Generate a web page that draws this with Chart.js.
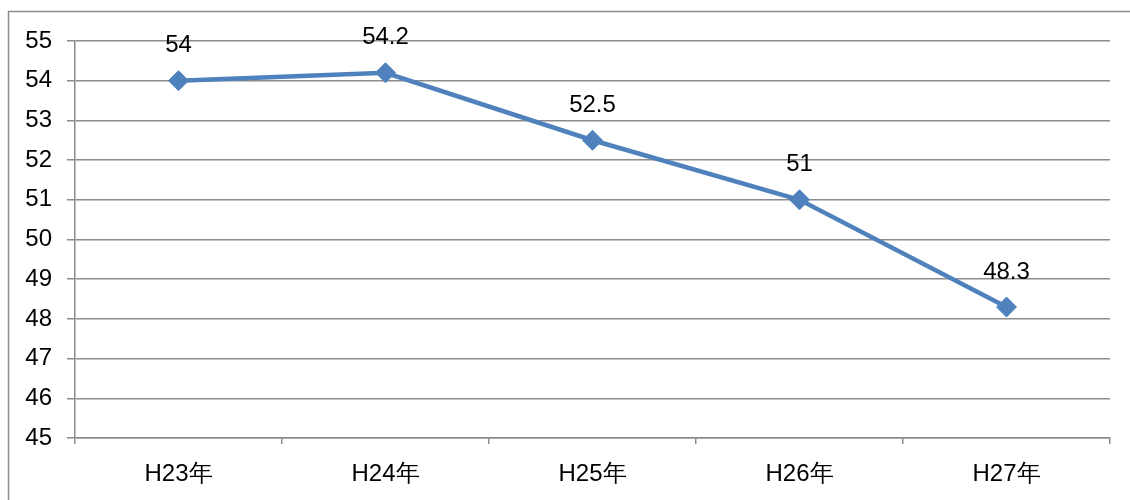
<!DOCTYPE html>
<html>
<head>
<meta charset="utf-8">
<script src="https://cdn.jsdelivr.net/npm/chart.js@4"></script>
<style>
  html, body { margin: 0; padding: 0; background: #fff; }
  #wrap { width: 1130px; height: 500px; position: relative; }
</style>
</head>
<body>
<div id="wrap"><canvas id="lineChart" width="1130" height="500"></canvas></div>
<script>
const years = ["H23年", "H24年", "H25年", "H26年", "H27年"];
const values = [54, 54.2, 52.5, 51, 48.3];
const yMin = 45;
const yMax = 55;
const fontFamily = "'Liberation Sans', Arial, sans-serif";

// frame + value labels
const extras = {
    id: "extras",
    beforeDraw(chart) {
        const c = chart.ctx;
        c.save();
        c.strokeStyle = "#8c8c8c";
        c.lineWidth = 1.5;
        c.strokeRect(8.5, 11.5, 1200, 600);
        c.restore();
    },
    afterDatasetsDraw(chart) {
        const c = chart.ctx;
        const meta = chart.getDatasetMeta(0);
        c.save();
        c.font = "24px " + fontFamily;
        c.fillStyle = "#000";
        c.textAlign = "center";
        c.textBaseline = "middle";
        meta.data.forEach((pt, i) => {
            c.fillText(String(values[i]), pt.x, pt.y - 35);
        });
        c.restore();
    }
};

new Chart(document.getElementById("lineChart").getContext("2d"), {
    type: "line",
    data: {
        labels: years,
        datasets: [{
            data: values,
            borderColor: "#4f81bd",
            backgroundColor: "#4f81bd",
            borderWidth: 4.5,
            pointStyle: "rectRot",
            pointRadius: 10,
            pointHoverRadius: 10,
            pointBorderWidth: 1,
            tension: 0,
            fill: false
        }]
    },
    options: {
        responsive: false,
        animation: false,
        layout: { padding: { top: 41, right: 20, left: 0, bottom: 0 } },
        plugins: { legend: { display: false }, tooltip: { enabled: false } },
        scales: {
            x: {
                offset: true,
                afterFit(s) { s.height = 62; },
                grid: { offset: true, drawOnChartArea: false, drawTicks: true, tickLength: 6, color: "#8c8c8c", lineWidth: 1.5 },
                border: { color: "#8c8c8c", width: 1.5 },
                ticks: { color: "#000", padding: 16, font: { size: 24, family: fontFamily } }
            },
            y: {
                min: yMin,
                max: yMax,
                afterFit(s) { s.width = 75; },
                grid: { color: "#8c8c8c", lineWidth: 1.5, tickLength: 8 },
                border: { color: "#8c8c8c", width: 1.5 },
                ticks: { stepSize: 1, color: "#000", padding: 15, font: { size: 24, family: fontFamily } }
            }
        }
    },
    plugins: [extras]
});
</script>
</body>
</html>
